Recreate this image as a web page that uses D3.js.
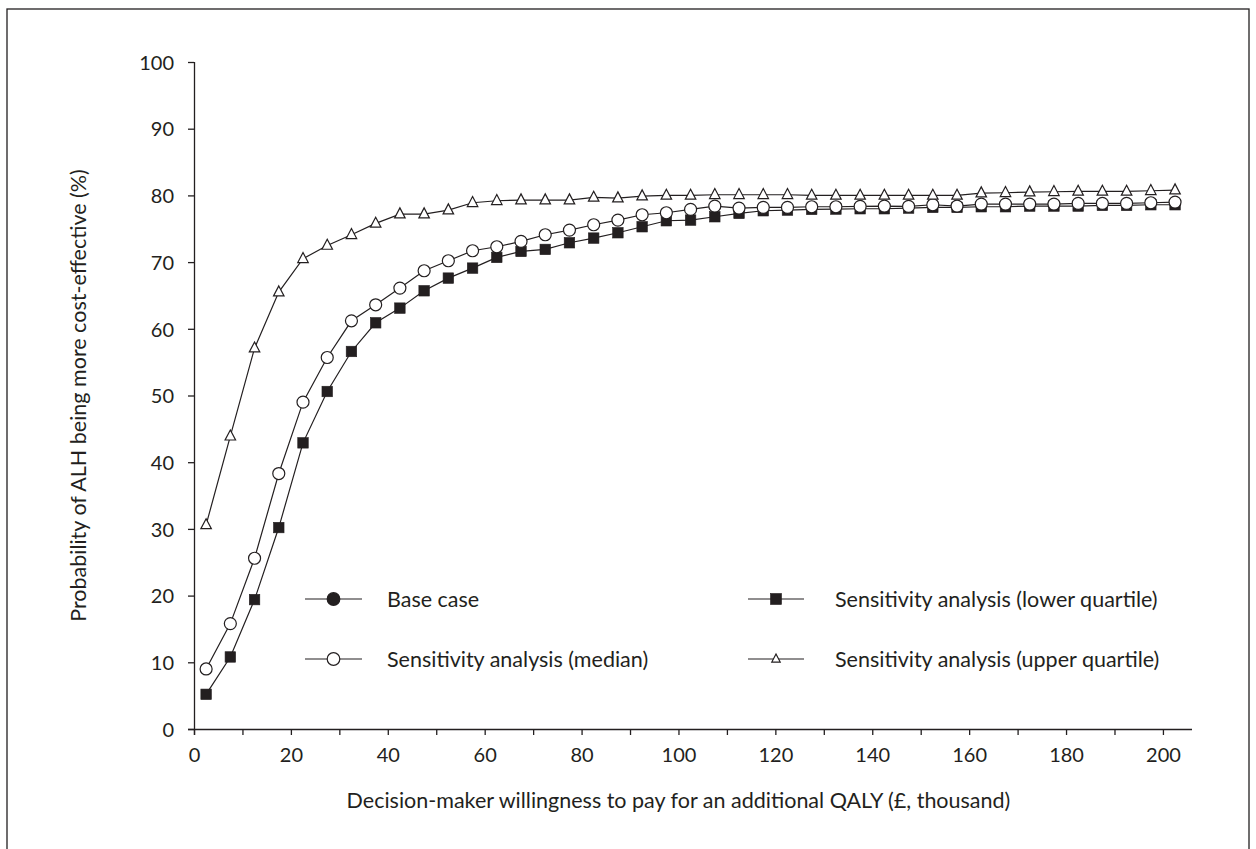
<!DOCTYPE html>
<html>
<head>
<meta charset="utf-8">
<script src="https://cdn.jsdelivr.net/npm/d3@7"></script>
<style>
  html, body { margin: 0; padding: 0; background: #fff; }
  svg { display: block; }
  text { font-family: Lato, "Open Sans", sans-serif; fill: #231f20; }
</style>
</head>
<body>
<svg id="chart" width="1256" height="849"></svg>
<script>
// willingness to pay (£ thousand)
const wtp = [2.5,7.5,12.5,17.5,22.5,27.5,32.5,37.5,42.5,47.5,52.5,57.5,62.5,67.5,72.5,77.5,82.5,87.5,92.5,97.5,
             102.5,107.5,112.5,117.5,122.5,127.5,132.5,137.5,142.5,147.5,152.5,157.5,162.5,167.5,172.5,177.5,182.5,187.5,192.5,197.5,202.5];
// Sensitivity analysis (median) — open circles
const median = [9.0,15.8,25.6,38.3,49.0,55.7,61.2,63.6,66.1,68.7,70.2,71.7,72.3,73.1,74.1,74.8,75.6,76.3,77.1,77.4,
                77.9,78.4,78.1,78.2,78.2,78.3,78.3,78.35,78.4,78.35,78.6,78.4,78.7,78.7,78.7,78.7,78.8,78.8,78.8,78.9,79.0];
// Sensitivity analysis (lower quartile) — filled squares
const lower = [5.2,10.8,19.4,30.2,42.9,50.6,56.6,60.9,63.1,65.7,67.6,69.1,70.7,71.6,71.9,72.9,73.6,74.4,75.3,76.2,
               76.3,76.8,77.3,77.7,77.8,77.9,77.95,78.0,78.0,78.1,78.2,78.2,78.3,78.3,78.4,78.4,78.4,78.5,78.5,78.6,78.6];
// Sensitivity analysis (upper quartile) — open triangles
const upper = [30.6,43.9,57.1,65.5,70.5,72.5,74.1,75.8,77.2,77.2,77.8,78.9,79.2,79.3,79.3,79.3,79.7,79.6,79.9,80.0,
               80.0,80.1,80.1,80.1,80.1,80.0,80.0,80.0,80.0,80.0,80.0,80.0,80.35,80.4,80.5,80.55,80.6,80.6,80.6,80.7,80.8];

const xTicks = d3.range(0, 201, 10);
const xTickLabels = d3.range(0, 201, 20);
const yTicks = d3.range(0, 101, 10);

const legendItems = [
  {label: "Base case", symbol: "filledCircle", col: 0, row: 0},
  {label: "Sensitivity analysis (median)", symbol: "openCircle", col: 0, row: 1},
  {label: "Sensitivity analysis (lower quartile)", symbol: "filledSquare", col: 1, row: 0},
  {label: "Sensitivity analysis (upper quartile)", symbol: "openTriangle", col: 1, row: 1}
];

const ink = "#231f20";
const svg = d3.select("#chart");

// outer frame
svg.append("rect").attr("x", 7).attr("y", 9).attr("width", 1242).attr("height", 860)
  .attr("fill", "none").attr("stroke", ink).attr("stroke-width", 1.3);

const x = d3.scaleLinear().domain([0, 206]).range([194, 1192]);
const y = d3.scaleLinear().domain([0, 100]).range([729, 62]);

// axes
const xAxis = d3.axisBottom(x).tickValues(xTicks).tickSize(6).tickSizeOuter(0)
  .tickFormat(d => xTickLabels.includes(d) ? d : "");
const gx = svg.append("g").attr("transform", `translate(0,${y(0)})`).call(xAxis);
gx.select(".domain").attr("d", `M${x(0) - 6},0.5H${x(206)}`);
const yAxis = d3.axisLeft(y).tickValues(yTicks).tickSize(6).tickSizeOuter(0);
const gy = svg.append("g").attr("transform", `translate(${x(0)},0)`).call(yAxis);
gy.select(".domain").attr("d", `M0.5,${y(100)}V${y(0) + 6}`);
[gx, gy].forEach(g => {
  g.selectAll("path, line").attr("stroke", ink).attr("stroke-width", 1.3);
  g.selectAll("text").attr("font-size", 20).attr("font-family", "Lato, sans-serif").attr("fill", ink);
});
gx.selectAll(".tick text").attr("dy", "0.71em").attr("y", 19);
gy.selectAll(".tick text").attr("x", -20).attr("dy", "0.36em");

// axis titles
svg.append("text").attr("x", (x(0) + x(200)) / 2).attr("y", 808)
  .attr("text-anchor", "middle").attr("font-size", 21.5)
  .text("Decision-maker willingness to pay for an additional QALY (£, thousand)");
svg.append("text").attr("transform", `translate(86,${(y(0) + y(100)) / 2}) rotate(-90)`)
  .attr("text-anchor", "middle").attr("font-size", 21.5)
  .text("Probability of ALH being more cost-effective (%)");

// symbol drawing
function drawSymbol(g, type, cx, cy, scale = 1) {
  if (type === "filledCircle" || type === "openCircle") {
    g.append("circle").attr("cx", cx).attr("cy", cy).attr("r", 6 * scale)
      .attr("fill", type === "filledCircle" ? ink : "#fff").attr("stroke", ink).attr("stroke-width", 1.2);
  } else if (type === "filledSquare") {
    const s = 10.5 * scale;
    g.append("rect").attr("x", cx - s / 2).attr("y", cy - s / 2).attr("width", s).attr("height", s)
      .attr("fill", ink).attr("stroke", ink).attr("stroke-width", 0.6);
  } else if (type === "openTriangle") {
    const w = 10.5 * scale, h = 10 * scale;
    g.append("path").attr("d", `M${cx},${cy - h * 0.62}L${cx + w / 2},${cy + h * 0.38}L${cx - w / 2},${cy + h * 0.38}Z`)
      .attr("fill", "#fff").attr("stroke", ink).attr("stroke-width", 1.2);
  }
}

const line = d3.line().x(d => x(d[0])).y(d => y(d[1]));
const series = [
  {values: lower, symbol: "filledSquare"},
  {values: median, symbol: "openCircle"},
  {values: upper, symbol: "openTriangle"}
];
const plot = svg.append("g");
series.forEach(s => {
  const pts = wtp.map((w, i) => [w, s.values[i]]);
  plot.append("path").datum(pts).attr("d", line).attr("fill", "none").attr("stroke", ink).attr("stroke-width", 1.2);
});
series.forEach(s => {
  const g = plot.append("g");
  wtp.forEach((w, i) => drawSymbol(g, s.symbol, x(w), y(s.values[i])));
});

// legend
const legCols = [{lineX0: 305, lineX1: 362, textX: 387}, {lineX0: 748, lineX1: 804, textX: 835}];
const legRows = [599, 659];
const leg = svg.append("g");
legendItems.forEach(it => {
  const c = legCols[it.col], ry = legRows[it.row];
  leg.append("line").attr("x1", c.lineX0).attr("x2", c.lineX1).attr("y1", ry).attr("y2", ry)
    .attr("stroke", ink).attr("stroke-width", 1.2);
  const sc = it.symbol === "openTriangle" ? 0.8 : 1.05;
  drawSymbol(leg, it.symbol, (c.lineX0 + c.lineX1) / 2, ry, sc);
  leg.append("text").attr("x", c.textX).attr("y", ry).attr("dy", "0.36em").attr("font-size", 21.5).text(it.label);
});
</script>
</body>
</html>
